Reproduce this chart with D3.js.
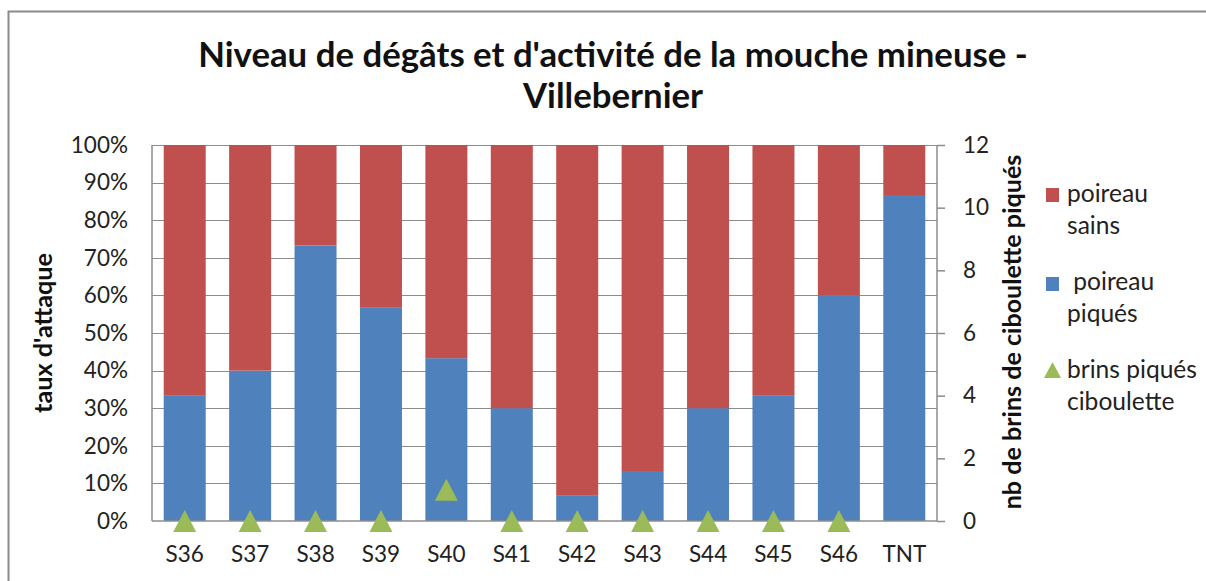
<!DOCTYPE html>
<html>
<head>
<meta charset="utf-8">
<script src="https://cdn.jsdelivr.net/npm/d3@7"></script>
<style>
  html, body { margin: 0; padding: 0; background: #fff; }
  svg { display: block; font-family: Lato, "Open Sans", sans-serif; }
</style>
</head>
<body>
<svg id="chart" width="1206" height="581"></svg>
<script>
// ---- data ----
const categories = ["S36","S37","S38","S39","S40","S41","S42","S43","S44","S45","S46","TNT"];
const poireauPiques = [0.333, 0.40, 0.733, 0.567, 0.433, 0.30, 0.067, 0.133, 0.30, 0.333, 0.60, 0.867];
const poireauSains  = [0.667, 0.60, 0.267, 0.433, 0.567, 0.70, 0.933, 0.867, 0.70, 0.667, 0.40, 0.133];
const brinsPiques   = [0, 0, 0, 0, 1, 0, 0, 0, 0, 0, 0, null];
const leftTicks = [0, 0.1, 0.2, 0.3, 0.4, 0.5, 0.6, 0.7, 0.8, 0.9, 1.0];
const rightTicks = [0, 2, 4, 6, 8, 10, 12];
const titleLines = ["Niveau de dégâts et d'activité de la mouche mineuse -", "Villebernier"];
const legendItems = [
  { key: "sains", lines: ["poireau", "sains"], color: "#C0504D", shape: "square" },
  { key: "piques", lines: [" poireau", "piqués"], color: "#4F81BD", shape: "square" },
  { key: "brins", lines: ["brins piqués", "ciboulette"], color: "#9BBB59", shape: "triangle" }
];

// ---- layout ----
const svg = d3.select("#chart");
const plot = { left: 152, right: 937, top: 145, bottom: 521 };
const RED = "#C0504D", BLUE = "#4F81BD", GREEN = "#9BBB59";
const GRID = "#8c8c8c";
const TICK_FS = 22.5;

function fitText(sel, target) {
  const node = sel.node();
  const fs = parseFloat(sel.attr("font-size"));
  const w = node.getComputedTextLength();
  if (w > 0) sel.attr("font-size", fs * target / w);
  return parseFloat(sel.attr("font-size"));
}

// outer frame
svg.append("rect").attr("x", 8.5).attr("y", 11.5).attr("width", 1206).attr("height", 600)
  .attr("fill", "#fff").attr("stroke", "#8a8a8a").attr("stroke-width", 2);

const x = d3.scaleBand().domain(categories).range([plot.left, plot.right])
  .paddingInner(0.358).paddingOuter(0.179);
const yL = d3.scaleLinear().domain([0, 1]).range([plot.bottom, plot.top]);
const yR = d3.scaleLinear().domain([0, 12]).range([plot.bottom, plot.top]);

// gridlines
svg.append("g").selectAll("line").data(leftTicks.slice(1)).join("line")
  .attr("x1", plot.left).attr("x2", plot.right)
  .attr("y1", d => Math.round(yL(d)) + 0.5).attr("y2", d => Math.round(yL(d)) + 0.5)
  .attr("stroke", GRID).attr("stroke-width", 1);

// stacked bars
const stackData = categories.map((c, i) => ({ cat: c, piques: poireauPiques[i], sains: poireauSains[i] }));
const stack = d3.stack().keys(["piques", "sains"])(stackData);
const colors = { piques: BLUE, sains: RED };
svg.append("g").selectAll("g").data(stack).join("g")
  .attr("fill", d => colors[d.key])
  .selectAll("rect").data(d => d).join("rect")
  .attr("x", d => x(d.data.cat))
  .attr("width", x.bandwidth())
  .attr("y", d => yL(d[1]))
  .attr("height", d => yL(d[0]) - yL(d[1]));

// axes lines
const axisG = svg.append("g").attr("stroke", GRID).attr("stroke-width", 1.5);
axisG.append("line").attr("x1", plot.left).attr("x2", plot.left).attr("y1", plot.top).attr("y2", plot.bottom);
axisG.append("line").attr("x1", plot.right).attr("x2", plot.right).attr("y1", plot.top).attr("y2", plot.bottom);
axisG.append("line").attr("x1", plot.left).attr("x2", plot.right).attr("y1", plot.bottom).attr("y2", plot.bottom);

// left axis
const leftAxis = d3.axisLeft(yL).tickValues(leftTicks).tickFormat(d3.format(".0%")).tickSize(0).tickPadding(24);
const gl = svg.append("g").attr("transform", `translate(${plot.left},0)`).call(leftAxis);
gl.select(".domain").remove();
gl.selectAll("text").attr("font-size", TICK_FS).attr("fill", "#222").attr("font-family", "Lato, 'Open Sans', sans-serif");

// right axis
const rightAxis = d3.axisRight(yR).tickValues(rightTicks).tickSize(8).tickPadding(18);
const gr = svg.append("g").attr("transform", `translate(${plot.right},0)`).call(rightAxis);
gr.select(".domain").remove();
gr.selectAll(".tick line").attr("stroke", GRID).attr("stroke-width", 1.5);
gr.selectAll("text").attr("font-size", TICK_FS).attr("fill", "#222").attr("font-family", "Lato, 'Open Sans', sans-serif");

// bottom axis
const bottomAxis = d3.axisBottom(x).tickSize(0).tickPadding(25);
const gb = svg.append("g").attr("transform", `translate(0,${plot.bottom})`).call(bottomAxis);
gb.select(".domain").remove();
gb.selectAll("text").attr("font-size", TICK_FS).attr("fill", "#222").attr("font-family", "Lato, 'Open Sans', sans-serif");

// triangles
function triPath(cx, cy, w, h) {
  return `M${cx},${cy - h / 2}L${cx + w / 2},${cy + h / 2}L${cx - w / 2},${cy + h / 2}Z`;
}
svg.append("g").selectAll("path")
  .data(categories.map((c, i) => ({ cat: c, v: brinsPiques[i] })).filter(d => d.v !== null))
  .join("path")
  .attr("d", d => triPath(x(d.cat) + x.bandwidth() / 2, yR(d.v), 23, 22))
  .attr("fill", GREEN);

// title
const t1 = svg.append("text").attr("x", 613).attr("y", 67).attr("text-anchor", "middle")
  .attr("font-weight", "bold").attr("font-size", 30).attr("fill", "#111").text(titleLines[0]);
const tfs = fitText(t1, 830);
svg.append("text").attr("x", 613).attr("y", 108).attr("text-anchor", "middle")
  .attr("font-weight", "bold").attr("font-size", tfs).attr("fill", "#111").text(titleLines[1]);

// axis titles
const lt = svg.append("text").attr("transform", "translate(52,333) rotate(-90)")
  .attr("text-anchor", "middle").attr("font-weight", "bold").attr("font-size", 19)
  .attr("fill", "#111").text("taux d'attaque");
fitText(lt, 160);
const rt = svg.append("text").attr("transform", "translate(1021,332) rotate(-90)")
  .attr("text-anchor", "middle").attr("font-weight", "bold").attr("font-size", 19)
  .attr("fill", "#111").text("nb de brins de ciboulette piqués");
fitText(rt, 355);

// legend
const legTop = [188, 277, 362];
const legBase = [202, 290, 378];
const lg = svg.append("g");
let legFs = 21;
{
  const probe = lg.append("text").attr("font-size", 21).text("brins piqués");
  legFs = fitText(probe, 130);
  probe.remove();
}
legendItems.forEach((it, i) => {
  if (it.shape === "square") {
    lg.append("rect").attr("x", 1046).attr("y", legTop[i]).attr("width", 13).attr("height", 14).attr("fill", it.color);
  } else {
    lg.append("path").attr("d", triPath(1052.5, 370, 17, 16)).attr("fill", it.color);
  }
  it.lines.forEach((ln, j) => {
    lg.append("text").attr("x", 1067).attr("y", legBase[i] + j * 31.5)
      .attr("font-size", legFs).attr("fill", "#222").attr("xml:space", "preserve")
      .style("white-space", "pre").text(ln);
  });
});
</script>
</body>
</html>
